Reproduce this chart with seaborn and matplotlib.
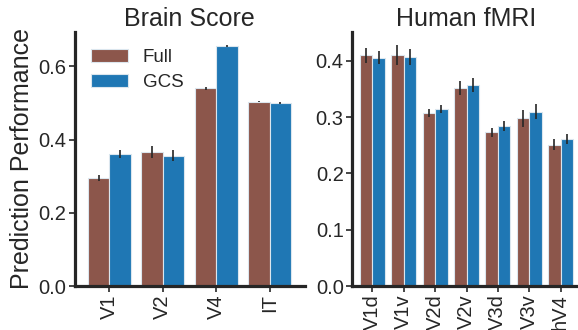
import matplotlib
matplotlib.use("Agg")
import matplotlib.pyplot as plt
import seaborn as sns
import pandas as pd

# ---- data ----
models = ["Full", "GCS"]
bs_regions = ["V1", "V2", "V4", "IT"]
bs_full = [0.296, 0.366, 0.540, 0.504]
bs_gcs = [0.361, 0.356, 0.655, 0.501]
bs_full_err = [0.008, 0.016, 0.004, 0.002]
bs_gcs_err = [0.010, 0.015, 0.003, 0.003]

fm_regions = ["V1d", "V1v", "V2d", "V2v", "V3d", "V3v", "hV4"]
fm_full = [0.410, 0.410, 0.307, 0.352, 0.273, 0.298, 0.251]
fm_gcs = [0.406, 0.407, 0.315, 0.357, 0.284, 0.310, 0.261]
fm_full_err = [0.013, 0.018, 0.007, 0.012, 0.008, 0.015, 0.010]
fm_gcs_err = [0.012, 0.015, 0.007, 0.013, 0.009, 0.013, 0.009]

palette = {"Full": "#8c564b", "GCS": "#1f77b4"}

sns.set_theme(style="ticks")
plt.rcParams["font.family"] = ["Liberation Sans", "DejaVu Sans"]
plt.rcParams["axes.edgecolor"] = "#262626"


def make_df(regions, full, gcs, ferr, gerr):
    rows = []
    for r, v, e in zip(regions, full, ferr):
        rows.append({"Region": r, "Model": "Full", "Score": v, "Err": e})
    for r, v, e in zip(regions, gcs, gerr):
        rows.append({"Region": r, "Model": "GCS", "Score": v, "Err": e})
    return pd.DataFrame(rows)


fig = plt.figure(figsize=(5.78, 3.30), dpi=100)
W, H = 578.0, 330.0
bottom = (H - 286) / H
top = (H - 31.7) / H
ax1 = fig.add_axes([74.5 / W, bottom, 230 / W, top - bottom])
ax2 = fig.add_axes([352 / W, bottom, 229 / W, top - bottom])


def draw(ax, df, regions, errs, ylim, yticks, title, legend):
    sns.barplot(data=df, x="Region", y="Score", hue="Model", order=regions,
                hue_order=models, palette=palette, errorbar=None, width=0.8,
                ax=ax, legend=legend, saturation=1, edgecolor="#dbe6ee",
                linewidth=0.8)
    for cont, err in zip(ax.containers, errs):
        xs = [p.get_x() + p.get_width() / 2 for p in cont.patches]
        ys = [p.get_height() for p in cont.patches]
        ax.errorbar(xs, ys, yerr=err, fmt="none", ecolor="#262626",
                    elinewidth=1.2, capsize=0)
    n = len(regions)
    ax.set_xlim(-0.65, n - 1 + 0.65)
    ax.set_ylim(*ylim)
    ax.set_yticks(yticks)
    ax.set_yticklabels([f"{t:.1f}" for t in yticks])
    ax.set_xlabel("")
    ax.set_ylabel("")
    ax.set_title(title, fontsize=18, pad=4)
    ax.tick_params(axis="x", labelrotation=90, labelsize=14.5, length=4,
                   width=1.2, pad=2)
    ax.tick_params(axis="y", labelsize=14.5, length=4, width=1.2, pad=2)
    for s in ["left", "bottom"]:
        ax.spines[s].set_linewidth(2.3)
    sns.despine(ax=ax)


df1 = make_df(bs_regions, bs_full, bs_gcs, bs_full_err, bs_gcs_err)
df2 = make_df(fm_regions, fm_full, fm_gcs, fm_full_err, fm_gcs_err)

draw(ax1, df1, bs_regions, [bs_full_err, bs_gcs_err], (0, 0.695),
     [0.0, 0.2, 0.4, 0.6], "Brain Score", True)
draw(ax2, df2, fm_regions, [fm_full_err, fm_gcs_err], (0, 0.452),
     [0.0, 0.1, 0.2, 0.3, 0.4], "Human fMRI", False)

ax1.set_ylabel("Prediction Performance", fontsize=18, labelpad=3)
leg = ax1.legend(loc="upper left", frameon=False, fontsize=13.5,
                 handlelength=1.95, handletextpad=0.8, labelspacing=0.45)

fig.savefig("out.png", dpi=100)
